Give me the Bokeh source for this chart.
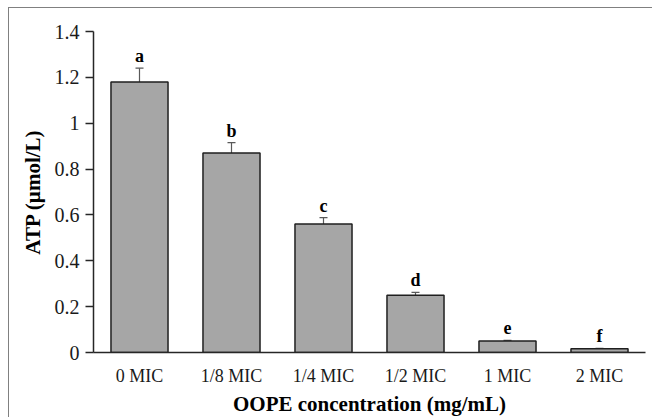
from bokeh.plotting import figure
from bokeh.models import ColumnDataSource, Range1d, FactorRange, Whisker, LabelSet, FixedTicker, CustomJSTickFormatter
from bokeh.embed import file_html
from bokeh.resources import INLINE

categories = ["0 MIC", "1/8 MIC", "1/4 MIC", "1/2 MIC", "1 MIC", "2 MIC"]
atp = [1.18, 0.87, 0.56, 0.25, 0.05, 0.016]
err = [0.06, 0.045, 0.028, 0.012, 0.003, 0.002]
letters = ["a", "b", "c", "d", "e", "f"]
y_ticks = [0, 0.2, 0.4, 0.6, 0.8, 1.0, 1.2, 1.4]

src = ColumnDataSource(dict(
    cat=categories, atp=atp,
    upper=[v + e for v, e in zip(atp, err)],
    lower=[v - e for v, e in zip(atp, err)],
    letter=letters,
))

FONT = "Liberation Serif"

p = figure(x_range=FactorRange(factors=categories, range_padding=0),
           y_range=Range1d(0, 1.4),
           width=644, height=410, output_backend="svg", toolbar_location=None,
           min_border_left=84, min_border_right=8, min_border_top=23, min_border_bottom=66)
p.styles = {"margin-left": "8px", "margin-top": "7px",
            "border-left": "1.5px solid #808080", "border-top": "1.5px solid #808080",
            "border-right": "0px none", "border-bottom": "0px none"}
p.outline_line_color = None
p.xgrid.grid_line_color = None
p.ygrid.grid_line_color = None

p.vbar(x="cat", top="atp", width=0.62, source=src, fill_color="#a6a6a6",
       line_color="#1f1f1f", line_width=1.5)

w = Whisker(base="cat", upper="upper", lower="lower", source=src,
            line_color="#595959", line_width=1.2)
w.upper_head.size = 8
w.lower_head.size = 8
w.upper_head.line_color = "#595959"
w.lower_head.line_color = "#595959"
w.upper_head.line_width = 1.2
w.lower_head.line_width = 1.2
p.add_layout(w)

labels = LabelSet(x="cat", y="upper", text="letter", source=src, y_offset=6,
                  text_align="center", text_baseline="alphabetic",
                  text_font=FONT, text_font_style="bold", text_font_size="18px",
                  text_color="#000000")
p.add_layout(labels)

p.yaxis.ticker = FixedTicker(ticks=y_ticks)
p.yaxis.formatter = CustomJSTickFormatter(code="return String(Math.round(tick*10)/10);")
p.yaxis.major_tick_out = 8
p.yaxis.major_tick_in = 0
p.yaxis.minor_tick_line_color = None
p.yaxis.major_label_standoff = 6
p.yaxis.axis_label = "ATP (µmol/L)"
p.yaxis.axis_label_standoff = 7

p.xaxis.minor_tick_line_color = None
p.xaxis.major_label_standoff = 7
p.xaxis.axis_label = "OOPE concentration (mg/mL)"
p.xaxis.axis_label_standoff = 3

for ax in (p.xaxis, p.yaxis):
    ax.axis_line_color = "#262626"
    ax.axis_line_width = 1.5
    ax.major_tick_line_width = 1.5
    ax.major_label_text_font = FONT
    ax.major_label_text_color = "#1a1a1a"
    ax.axis_label_text_font = FONT
    ax.axis_label_text_font_style = "bold"
    ax.axis_label_text_font_size = "21px"
    ax.axis_label_text_color = "#000000"

p.yaxis.major_tick_line_color = "#262626"
p.xaxis.major_tick_line_color = None
p.yaxis.major_label_text_font_size = "20px"
p.xaxis.major_label_text_font_size = "18px"

open("out.html", "w").write(file_html(p, INLINE))
